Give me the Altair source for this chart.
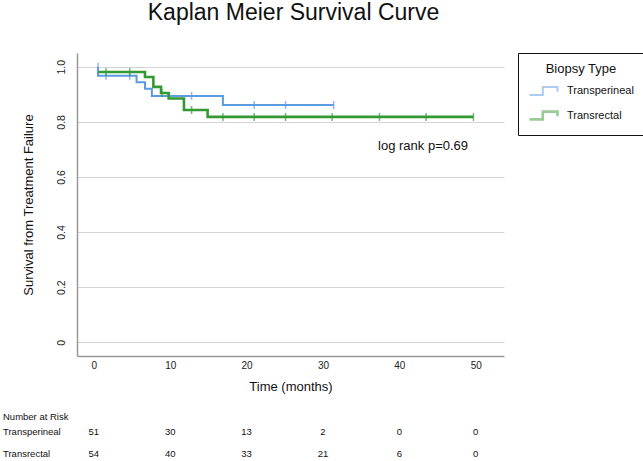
import altair as alt
import pandas as pd

FONT = "Liberation Sans"

groups = ["Transperineal", "Transrectal"]
colors = ["#5B9BE0", "#339933"]
widths = [2.0, 2.6]

# Kaplan-Meier step points (time in months, survival proportion)
tp_time = [0.55, 0.55, 5.6, 6.7, 7.6, 16.9, 31.4]
tp_surv = [1.0, 0.967, 0.944, 0.920, 0.894, 0.861, 0.861]
tr_time = [0.6, 6.7, 7.8, 8.8, 9.8, 11.8, 14.9, 49.7]
tr_surv = [0.981, 0.963, 0.927, 0.905, 0.885, 0.843, 0.818, 0.818]

# censoring marks
tp_cens_time = [0.55, 1.6, 4.7, 12.8, 21.0, 25.1, 31.4]
tp_cens_surv = [1.0, 0.967, 0.967, 0.894, 0.861, 0.861, 0.861]
tr_cens_time = [1.6, 4.7, 8.9, 12.8, 16.9, 21.0, 25.1, 31.2, 37.4, 43.5, 49.7]
tr_cens_surv = [0.981, 0.981, 0.905, 0.843, 0.818, 0.818, 0.818, 0.818, 0.818, 0.818, 0.818]

# number at risk table
risk_times = [0, 10, 20, 30, 40, 50]
tp_at_risk = [51, 30, 13, 2, 0, 0]
tr_at_risk = [54, 40, 33, 21, 6, 0]

x_ticks = [0, 10, 20, 30, 40, 50]
y_ticks = [0, 0.2, 0.4, 0.6, 0.8, 1.0]

annotation = "log rank p=0.69"
annot_t, annot_s = 43.1, 0.713

# ---- tables
curve = pd.DataFrame({
    "group": [groups[0]] * len(tp_time) + [groups[1]] * len(tr_time),
    "t": tp_time + tr_time,
    "s": tp_surv + tr_surv,
    "order": list(range(len(tp_time))) + list(range(len(tr_time))),
})
cens = pd.DataFrame({
    "group": [groups[0]] * len(tp_cens_time) + [groups[1]] * len(tr_cens_time),
    "t": tp_cens_time + tr_cens_time,
    "s": tp_cens_surv + tr_cens_surv,
})
risk1 = pd.DataFrame({"t": risk_times, "n": tp_at_risk})
risk2 = pd.DataFrame({"t": risk_times, "n": tr_at_risk})
ann = pd.DataFrame({"t": [annot_t], "s": [annot_s], "label": [annotation]})
rowlab = pd.DataFrame({"label": ["Number at Risk"] + groups})

W, H = 427, 303

xs = alt.Scale(domain=[-2.2, 53.7], nice=False, zero=False)
ys = alt.Scale(domain=[-0.05, 1.05], nice=False, zero=False)
cscale = alt.Scale(domain=groups, range=colors)

x_axis = alt.Axis(
    values=x_ticks, title="Time (months)", grid=False, ticks=False,
    domainColor="#999999", domainWidth=1.5, labelFontSize=10, labelColor="#222222",
    labelPadding=4, titleFontSize=13, titleFontWeight="normal", titleColor="#111111",
    titlePadding=10, titleFont=FONT, labelFont=FONT,
)
y_axis = alt.Axis(
    values=y_ticks, title="Survival from Treatment Failure", grid=True, ticks=False,
    gridColor="#d4d4d4", gridWidth=1.2, domainColor="#999999", domainWidth=1.5,
    labelAngle=270, labelFontSize=10.5, labelColor="#222222", labelPadding=11,
    labelExpr="datum.value == 0 ? '0' : format(datum.value, '.1f')",
    titleFontSize=13, titleFontWeight="normal", titleColor="#111111",
    titlePadding=21, titleFont=FONT, labelFont=FONT,
)

# step-shaped legend glyph, traced out and back so it encloses no area
step_symbol = ("M-1,0.28 L-0.05,0.28 L-0.05,-0.28 L1,-0.28 L1,0.05 "
               "L1,-0.28 L-0.05,-0.28 L-0.05,0.28 Z")

legend = alt.Legend(
    title="Biopsy Type", orient="none", legendX=441, legendY=0,
    strokeColor="#111111", padding=10, fillColor="white",
    titleFontSize=13, titleFontWeight="normal", titleColor="#111111", titleFont=FONT,
    titleAnchor="middle", titlePadding=0,
    labelFontSize=11, labelFont=FONT, labelColor="#111111", labelOffset=8,
    symbolType=step_symbol, symbolSize=784, symbolStrokeWidth=1.8,
    symbolOpacity=0.5, rowPadding=1,
)

lines = alt.Chart(curve).mark_line(interpolate="step-after").encode(
    x=alt.X("t:Q", scale=xs, axis=x_axis),
    y=alt.Y("s:Q", scale=ys, axis=y_axis),
    color=alt.Color("group:N", scale=cscale, legend=legend),
    strokeWidth=alt.StrokeWidth("group:N", scale=alt.Scale(domain=groups, range=widths),
                                legend=None),
    order="order:Q",
)

ticks = alt.Chart(cens).mark_tick(orient="vertical", size=8, thickness=1.5).encode(
    x=alt.X("t:Q", scale=xs),
    y=alt.Y("s:Q", scale=ys),
    color=alt.Color("group:N", scale=cscale, legend=None),
)

annot = alt.Chart(ann).mark_text(fontSize=13, font=FONT, color="#111111").encode(
    x=alt.X("t:Q", scale=xs), y=alt.Y("s:Q", scale=ys), text="label:N"
)

tbl_font = 9.5


def row_label(idx, ypix):
    return alt.Chart(rowlab).transform_window(idx="row_number()").transform_filter(
        f"datum.idx == {idx}").mark_text(
        align="left", baseline="middle", fontSize=tbl_font, font=FONT, color="#111111"
    ).encode(x=alt.value(-74), y=alt.value(ypix), text="label:N")


hdr = row_label(1, 364)
lab1 = row_label(2, 379)
lab2 = row_label(3, 401)
r1 = alt.Chart(risk1).mark_text(baseline="middle", fontSize=tbl_font, font=FONT,
                                color="#111111").encode(
    x=alt.X("t:Q", scale=xs), y=alt.value(379), text="n:Q")
r2 = alt.Chart(risk2).mark_text(baseline="middle", fontSize=tbl_font, font=FONT,
                                color="#111111").encode(
    x=alt.X("t:Q", scale=xs), y=alt.value(401), text="n:Q")

chart = alt.layer(lines, ticks, annot, hdr, lab1, lab2, r1, r2).properties(
    width=W, height=H,
    title=alt.TitleParams("Kaplan Meier Survival Curve", fontSize=23, fontWeight="normal",
                          font=FONT, color="#111111", anchor="middle", baseline="alphabetic",
                          offset=10, dx=3),
    autosize=alt.AutoSizeParams(type="none"),
    padding={"left": 77, "top": 53, "right": 139, "bottom": 105},
).configure(font=FONT, background="white").configure_view(stroke=None)

chart.save("out.html", embed_options={"renderer": "svg", "actions": False})
